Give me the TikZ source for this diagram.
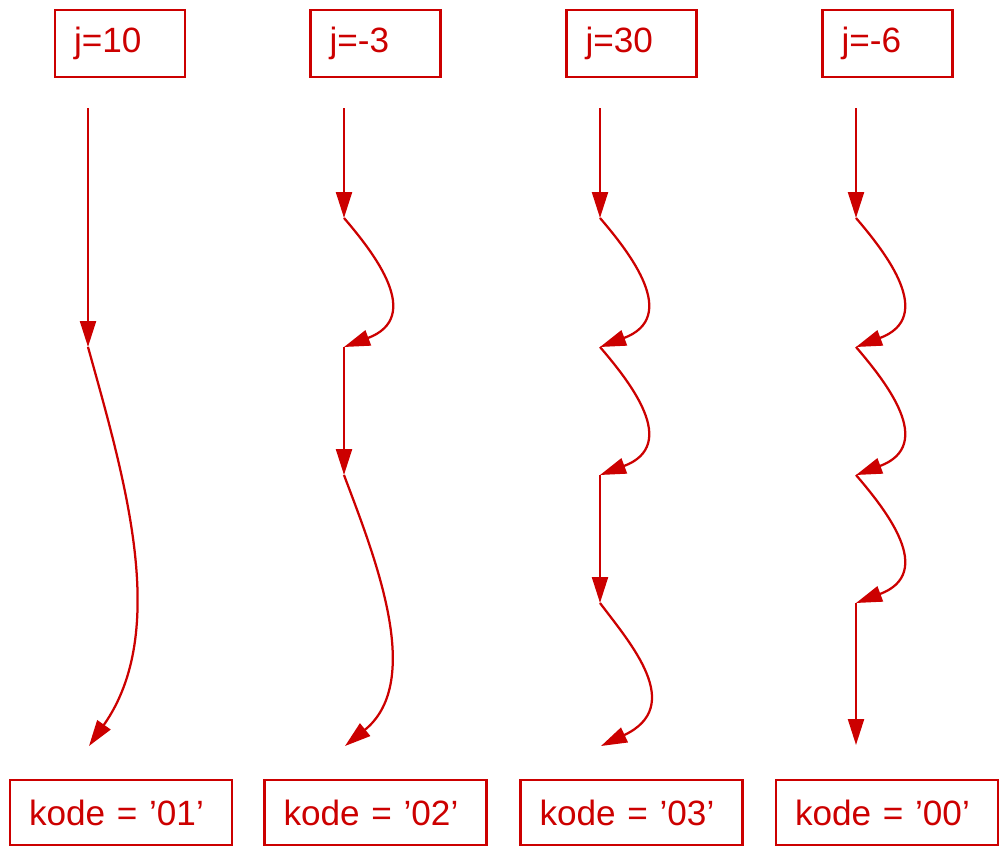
\documentclass[tikz,border=0pt]{standalone}
\usepackage{fontspec}
\setmainfont{Liberation Sans}
\usetikzlibrary{arrows.meta}
\definecolor{kred}{RGB}{204,0,0}

\begin{document}
\begin{tikzpicture}[>={Triangle[length=0.52cm,width=0.32cm]},font=\fontsize{20}{24}\selectfont]
  \tikzstyle{jbox}=[draw=kred,text=kred,line width=0.045cm,text width=1.84cm,inner xsep=0.38cm,minimum height=1.34cm,align=left]
  \tikzstyle{kbox}=[draw=kred,text=kred,line width=0.045cm,text width=3.68cm,inner xsep=0.38cm,minimum height=1.3cm,align=left]
  \tikzstyle{flow}=[draw=kred,line width=0.045cm,->]
  \useasboundingbox (0,0) rectangle (20,-17);
  % boxes
  \node[jbox] (ja) at (2.4,-0.87) {j=10};
  \node[jbox] (jb) at (7.51,-0.87) {j=-3};
  \node[jbox] (jc) at (12.63,-0.87) {j=30};
  \node[jbox] (jd) at (17.75,-0.87) {j=-6};
  \node[kbox] (ka) at (2.42,-16.25) {kode = '01'};
  \node[kbox] (kb) at (7.51,-16.25) {kode = '02'};
  \node[kbox] (kc) at (12.63,-16.25) {kode = '03'};
  \node[kbox] (kd) at (17.74,-16.25) {kode = '00'};
  % points
  \coordinate (a0) at (1.76,-2.16);
  \coordinate (a2) at (1.76,-6.94);
  \coordinate (a5) at (1.78,-14.92);
  \coordinate (b0) at (6.88,-2.16);
  \coordinate (b1) at (6.88,-4.36);
  \coordinate (b2) at (6.88,-6.94);
  \coordinate (b3) at (6.88,-9.5);
  \coordinate (b5) at (6.9,-14.92);
  \coordinate (c0) at (12,-2.16);
  \coordinate (c1) at (12,-4.36);
  \coordinate (c2) at (12,-6.94);
  \coordinate (c3) at (12,-9.5);
  \coordinate (c4) at (12,-12.06);
  \coordinate (c5) at (12.02,-14.92);
  \coordinate (d0) at (17.12,-2.16);
  \coordinate (d1) at (17.12,-4.36);
  \coordinate (d2) at (17.12,-6.94);
  \coordinate (d3) at (17.12,-9.5);
  \coordinate (d4) at (17.12,-12.06);
  \coordinate (d5) at (17.12,-14.9);
  % j=10
  \draw[flow] (a0) -- (a2);
  \draw[flow] (a2) .. controls +(0.74,-2.66) and +(1.62,2.3) .. (a5);
  % j=-3
  \draw[flow] (b0) -- (b1);
  \draw[flow] (b1) .. controls +(0.6,-0.7) and +(1.6,0.6) .. (b2);
  \draw[flow] (b2) -- (b3);
  \draw[flow] (b3) .. controls +(0.6,-1.6) and +(1.6,1.3) .. (b5);
  % j=30
  \draw[flow] (c0) -- (c1);
  \draw[flow] (c1) .. controls +(0.6,-0.7) and +(1.6,0.6) .. (c2);
  \draw[flow] (c2) .. controls +(0.6,-0.7) and +(1.6,0.6) .. (c3);
  \draw[flow] (c3) -- (c4);
  \draw[flow] (c4) .. controls +(0.6,-0.8) and +(1.7,0.8) .. (c5);
  % j=-6
  \draw[flow] (d0) -- (d1);
  \draw[flow] (d1) .. controls +(0.6,-0.7) and +(1.6,0.6) .. (d2);
  \draw[flow] (d2) .. controls +(0.6,-0.7) and +(1.6,0.6) .. (d3);
  \draw[flow] (d3) .. controls +(0.6,-0.7) and +(1.6,0.6) .. (d4);
  \draw[flow] (d4) -- (d5);
\end{tikzpicture}
\end{document}
